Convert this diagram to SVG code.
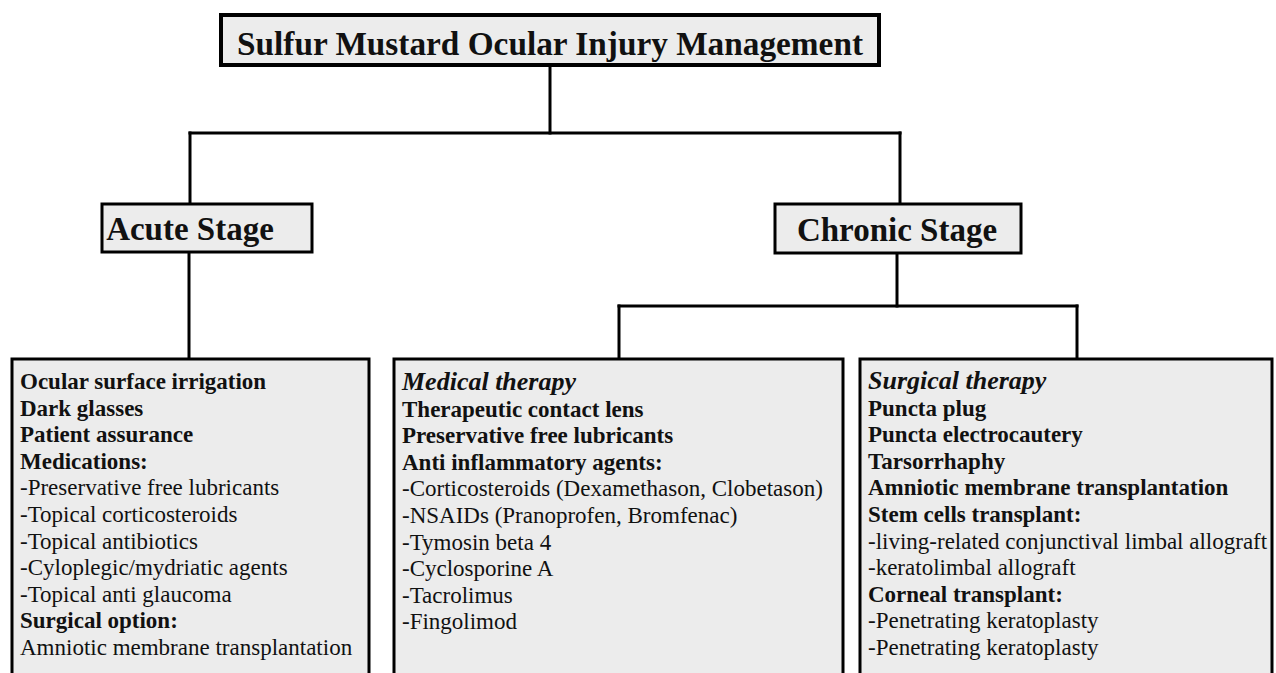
<svg xmlns="http://www.w3.org/2000/svg" width="1276" height="673" viewBox="0 0 1276 673">
<style>
.box{fill:#ececec;stroke:#000;stroke-width:3}
.tbox{fill:#ececec;stroke:#000;stroke-width:4}
.conn line{stroke:#000;stroke-width:3;stroke-linecap:square}
text{font-family:"Liberation Serif","Times New Roman",serif;fill:#111}
.h{font-size:33px;font-weight:bold;text-anchor:middle}
.t{font-size:34px;font-weight:bold;text-anchor:middle}
.b{font-size:23px;font-weight:bold}
.r{font-size:23px}
.i{font-size:26px;font-weight:bold;font-style:italic}
</style>
<rect width="1276" height="673" fill="#fff"/>
<g class="conn" id="connectors">
<line x1="550" y1="66" x2="550" y2="133"/>
<line x1="190" y1="133" x2="900" y2="133"/>
<line x1="190" y1="133" x2="190" y2="203"/>
<line x1="900" y1="133" x2="900" y2="203"/>
<line x1="189" y1="252" x2="189" y2="358"/>
<line x1="897" y1="253" x2="897" y2="306"/>
<line x1="619" y1="306" x2="1077" y2="306"/>
<line x1="619" y1="306" x2="619" y2="358"/>
<line x1="1077" y1="306" x2="1077" y2="358"/>
</g>
<g id="title">
<rect class="tbox" x="221" y="15" width="658" height="50"/>
<text class="t" x="550" y="55" textLength="626" lengthAdjust="spacingAndGlyphs">Sulfur Mustard Ocular Injury Management</text>
</g>
<g id="acute">
<rect class="box" x="102" y="204" width="210" height="48"/>
<text class="h" x="190" y="240">Acute Stage</text>
</g>
<g id="chronic">
<rect class="box" x="775" y="204" width="246" height="49"/>
<text class="h" x="897" y="241">Chronic Stage</text>
</g>
<g id="acute-list">
<rect class="box" x="12" y="359" width="357" height="330"/>
<text class="b" x="20" y="389">Ocular surface irrigation</text>
<text class="b" x="20" y="415.6">Dark glasses</text>
<text class="b" x="20" y="442.2">Patient assurance</text>
<text class="b" x="20" y="468.8">Medications:</text>
<text class="r" x="20" y="495.4">-Preservative free lubricants</text>
<text class="r" x="20" y="522">-Topical corticosteroids</text>
<text class="r" x="20" y="548.6">-Topical antibiotics</text>
<text class="r" x="20" y="575.2">-Cyloplegic/mydriatic agents</text>
<text class="r" x="20" y="601.8">-Topical anti glaucoma</text>
<text class="b" x="20" y="628.4">Surgical option:</text>
<text class="r" x="20" y="655">Amniotic membrane transplantation</text>
</g>
<g id="medical">
<rect class="box" x="394" y="359" width="449" height="330"/>
<text class="i" x="402" y="390">Medical therapy</text>
<text class="b" x="402" y="416.6">Therapeutic contact lens</text>
<text class="b" x="402" y="443.2">Preservative free lubricants</text>
<text class="b" x="402" y="469.8">Anti inflammatory agents:</text>
<text class="r" x="402" y="496.4">-Corticosteroids (Dexamethason, Clobetason)</text>
<text class="r" x="402" y="523">-NSAIDs (Pranoprofen, Bromfenac)</text>
<text class="r" x="402" y="549.6">-Tymosin beta 4</text>
<text class="r" x="402" y="576.2">-Cyclosporine A</text>
<text class="r" x="402" y="602.8">-Tacrolimus</text>
<text class="r" x="402" y="629.4">-Fingolimod</text>
</g>
<g id="surgical">
<rect class="box" x="860" y="359" width="412" height="330"/>
<text class="i" x="868" y="389">Surgical therapy</text>
<text class="b" x="868" y="415.6">Puncta plug</text>
<text class="b" x="868" y="442.2">Puncta electrocautery</text>
<text class="b" x="868" y="468.8">Tarsorrhaphy</text>
<text class="b" x="868" y="495.4">Amniotic membrane transplantation</text>
<text class="b" x="868" y="522">Stem cells transplant:</text>
<text class="r" x="868" y="548.6">-living-related conjunctival limbal allograft</text>
<text class="r" x="868" y="575.2">-keratolimbal allograft</text>
<text class="b" x="868" y="601.8">Corneal transplant:</text>
<text class="r" x="868" y="628.4">-Penetrating keratoplasty</text>
<text class="r" x="868" y="655">-Penetrating keratoplasty</text>
</g>
</svg>
